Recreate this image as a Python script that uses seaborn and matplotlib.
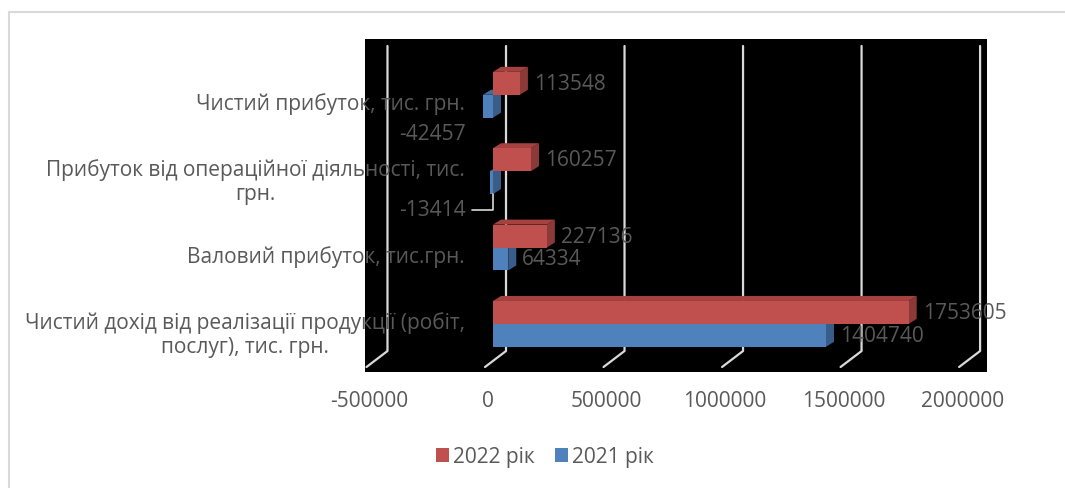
""" Financial results 2021-2022, pseudo-3D horizontal bars """

import matplotlib.pyplot as plt
import matplotlib.transforms as mtransforms
import pandas as pd
import seaborn as sns
from matplotlib.lines import Line2D
from matplotlib.patches import Patch, Polygon, Rectangle

categories = [
    "Чистий прибуток, тис. грн.",
    "Прибуток від операційної діяльності, тис.\nгрн.",
    "Валовий прибуток, тис.грн.",
    "Чистий дохід від реалізації продукції (робіт,\nпослуг), тис. грн.",
]
values_2022 = [113548, 160257, 227136, 1753605]
values_2021 = [-42457, -13414, 64334, 1404740]
series = ["2022 рік", "2021 рік"]
x_ticks = [-500000, 0, 500000, 1000000, 1500000, 2000000]

front_colors = {"2022 рік": "#C0504D", "2021 рік": "#4F81BD"}
side_colors = {"2022 рік": "#8C3A38", "2021 рік": "#385D8A"}
top_colors = {"2022 рік": "#A5423F", "2021 рік": "#426C9E"}
TEXT = "#595959"

sns.set_theme(style="white")
plt.rcParams["font.family"] = ["Open Sans", "DejaVu Sans"]

df = pd.DataFrame({
    "category": categories * 2,
    "value": values_2022 + values_2021,
    "year": [series[0]] * len(categories) + [series[1]] * len(categories),
})

W, H = 1065, 489
fig = plt.figure(figsize=(W / 100, H / 100), dpi=100)
ax = fig.add_axes([365 / W, 1 - 373 / H, 622 / W, 333 / H])
ax.set_facecolor("black")

sns.barplot(data=df, x="value", y="category", hue="year", hue_order=series,
            order=categories, palette=front_colors, orient="h", width=0.6,
            saturation=1, legend=False, ax=ax, zorder=2,
            edgecolor="none", linewidth=0)

ax.set_xlim(-540000, 2084000)
ax.set_ylim(3.63, -0.73)
ax.set_xticks(x_ticks)
ax.set_xticklabels([str(t) for t in x_ticks])
ax.set_xlabel("")
ax.set_ylabel("")
ax.grid(False)
for s in ax.spines.values():
    s.set_visible(False)
ax.tick_params(length=0, labelsize=15, colors=TEXT)
ax.tick_params(axis="x", pad=13)
ax.tick_params(axis="y", pad=0)

fig.canvas.draw()
renderer = fig.canvas.get_renderer()
ident = mtransforms.IdentityTransform()

# fake 3D depth on every bar
dx, dy = 8, 5
for container, name in zip(ax.containers, series):
    for bar in container:
        bb = bar.get_window_extent(renderer)
        x0, x1, y0, y1 = bb.x0, bb.x1, bb.y0, bb.y1
        side = Polygon([(x1, y0), (x1, y1), (x1 + dx, y1 + dy), (x1 + dx, y0 + dy)],
                       closed=True, facecolor=side_colors[name], edgecolor="none",
                       transform=ident, zorder=1.5)
        top = Polygon([(x0, y1), (x1, y1), (x1 + dx, y1 + dy), (x0 + dx, y1 + dy)],
                      closed=True, facecolor=top_colors[name], edgecolor="none",
                      transform=ident, zorder=1.5)
        ax.add_patch(side)
        ax.add_patch(top)

# gridlines drawn on the back wall with a slanted floor part
ya = lambda f: ax.transAxes.transform((0, f))[1]
for v in x_ticks:
    xd = ax.transData.transform((v, 0))[0]
    line = Line2D([xd + 13, xd + 13, xd - 8], [ya(0.979), ya(0.063), ya(0.015)],
                  color="#d9d9d9", lw=1.6, transform=ident, zorder=0.5)
    ax.add_line(line)

# data labels
for container, name in zip(ax.containers, series):
    for bar in container:
        v = bar.get_x() + bar.get_width() if bar.get_x() >= 0 else bar.get_x()
        yc = bar.get_y() + bar.get_height() / 2
        if v >= 0:
            ax.annotate(f"{v:.0f}", xy=(v, yc), xytext=(14, 0),
                        textcoords="offset pixels", ha="left", va="center",
                        fontsize=15, color=TEXT, zorder=4)
        else:
            arrow = None
            if abs(v) < 20000:
                arrow = dict(arrowstyle="-", color="#d9d9d9", lw=1.2, shrinkA=2,
                             shrinkB=8, connectionstyle="angle,angleA=0,angleB=90,rad=0")
            ax.annotate(f"{v:.0f}", xy=(0, yc), xytext=(-27, -27),
                        textcoords="offset pixels", ha="right", va="center",
                        fontsize=15, color=TEXT, zorder=4, arrowprops=arrow)

for lab in ax.get_yticklabels():
    lab.set_multialignment("center")
    lab.set_transform(lab.get_transform()
                      + mtransforms.ScaledTranslation(1.0, -0.06, fig.dpi_scale_trans))
for lab in ax.get_xticklabels():
    lab.set_transform(lab.get_transform()
                      + mtransforms.ScaledTranslation(-0.05, 0, fig.dpi_scale_trans))

handles = [Patch(facecolor=front_colors[s], edgecolor="none") for s in series]
fig.legend(handles, series, loc="center", bbox_to_anchor=(545 / W, 1 - 458 / H),
           ncol=2, frameon=False, handlelength=0.62, handleheight=0.62,
           handletextpad=0.2, columnspacing=1.0, fontsize=15, labelcolor=TEXT)

# light frame of the chart area
fig.add_artist(Rectangle((8.5 / W, -0.1), 2, 1 - 12.5 / H + 0.1, transform=fig.transFigure,
                         fill=False, edgecolor="#d9d9d9", lw=1.5, clip_on=False))

fig.savefig("out.png", dpi=100)
